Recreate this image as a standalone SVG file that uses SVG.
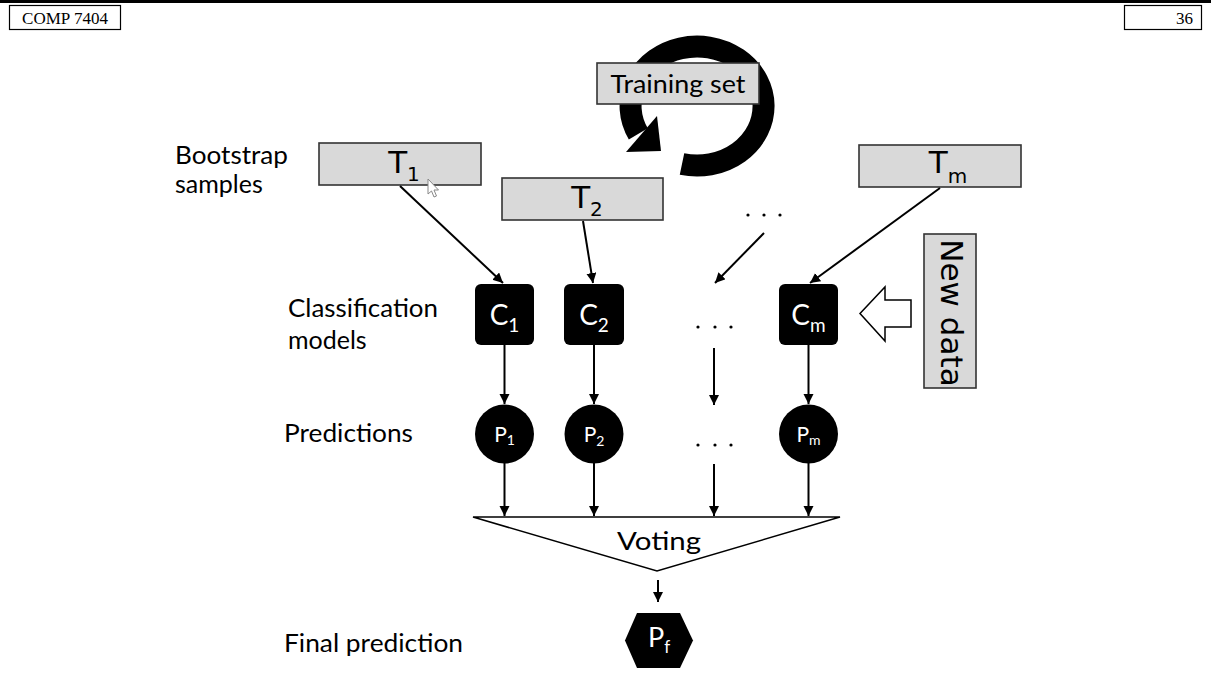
<svg xmlns="http://www.w3.org/2000/svg" width="1211" height="683" viewBox="0 0 1211 683">
  <style>
    .hdr { fill: #ffffff; stroke: #000000; stroke-width: 1.2; }
    .hdrtxt { font-family: "Liberation Serif", serif; font-size: 17px; fill: #000000; }
    .gray { fill: #d9d9d9; stroke: #333333; stroke-width: 1.6; }
    .lbl { font-family: Lato, "Open Sans", sans-serif; font-size: 25px; fill: #000000; }
    .tlbl { font-family: "DejaVu Sans", sans-serif; font-size: 31px; fill: #000000; }
    .tsub { font-size: 20px; }
    .model { fill: #000000; }
    .wtxt { font-family: Lato, "Open Sans", sans-serif; fill: #ffffff; }
    .conn line { stroke: #000000; stroke-width: 2; marker-end: url(#ah); }
    .dot { fill: #000000; }
  </style>
  <defs>
    <marker id="ah" markerUnits="userSpaceOnUse" markerWidth="11" markerHeight="11" refX="10" refY="5" orient="auto">
      <path d="M0,0 L10,5 L0,10 z" fill="#000000"/>
    </marker>
  </defs>

  <rect width="1211" height="683" fill="#ffffff"/>

  <!-- page header -->
  <rect x="0" y="0" width="1211" height="3" fill="#000000"/>
  <g id="header-course">
    <rect class="hdr" x="9.5" y="5.5" width="111" height="24"/>
    <text class="hdrtxt" x="65" y="24" text-anchor="middle">COMP 7404</text>
  </g>
  <g id="header-page">
    <rect class="hdr" x="1124.5" y="5.5" width="77" height="24"/>
    <text class="hdrtxt" x="1193" y="24" text-anchor="end">36</text>
  </g>

  <!-- resampling loop around the training set -->
  <g id="loop">
    <path d="M 682,164 A 66.5 59.5 0 1 0 638.3,133.9" fill="none" stroke="#000000" stroke-width="22"/>
    <polygon points="657,116 626,152 661,151" fill="#000000"/>
  </g>
  <g id="training-set">
    <rect class="gray" x="597" y="63" width="162" height="41"/>
    <text class="lbl" x="678" y="93" text-anchor="middle" font-size="28" textLength="135" lengthAdjust="spacingAndGlyphs">Training set</text>
  </g>

  <!-- row labels -->
  <g id="row-labels">
    <text class="lbl" x="175" y="164" textLength="113" lengthAdjust="spacingAndGlyphs">Bootstrap</text>
    <text class="lbl" x="175" y="193">samples</text>
    <text class="lbl" x="288" y="317" textLength="150" lengthAdjust="spacingAndGlyphs">Classification</text>
    <text class="lbl" x="288" y="349">models</text>
    <text class="lbl" x="284" y="442" textLength="129" lengthAdjust="spacingAndGlyphs">Predictions</text>
    <text class="lbl" x="284" y="652" textLength="179" lengthAdjust="spacingAndGlyphs">Final prediction</text>
  </g>

  <!-- bootstrap samples -->
  <g id="sample-1">
    <rect class="gray" x="319" y="143" width="162" height="42"/>
    <text class="tlbl" x="404" y="173" text-anchor="middle">T<tspan class="tsub" dy="8">1</tspan></text>
  </g>
  <g id="sample-2">
    <rect class="gray" x="502" y="178" width="161" height="42"/>
    <text class="tlbl" x="587" y="208" text-anchor="middle">T<tspan class="tsub" dy="8">2</tspan></text>
  </g>
  <g id="sample-m">
    <rect class="gray" x="859" y="145" width="162" height="42"/>
    <text class="tlbl" x="948" y="173" text-anchor="middle">T<tspan class="tsub" dy="10">m</tspan></text>
  </g>
  <g id="sample-dots">
    <circle class="dot" cx="748" cy="215" r="1.6"/>
    <circle class="dot" cx="764" cy="215" r="1.6"/>
    <circle class="dot" cx="780" cy="215" r="1.6"/>
  </g>

  <!-- mouse pointer -->
  <path d="M428,179 L428,194 L431.5,191 L434,197 L436.5,196 L434,190 L438.5,190 Z" fill="#ffffff" stroke="#888888" stroke-width="1"/>

  <!-- classification models -->
  <g id="model-1">
    <rect class="model" x="475" y="284" width="59" height="61" rx="6"/>
    <text class="wtxt" x="504.5" y="325" text-anchor="middle" font-size="28">C<tspan font-size="19" dy="7">1</tspan></text>
  </g>
  <g id="model-2">
    <rect class="model" x="564" y="284" width="60" height="61" rx="6"/>
    <text class="wtxt" x="594" y="325" text-anchor="middle" font-size="28">C<tspan font-size="19" dy="7">2</tspan></text>
  </g>
  <g id="model-m">
    <rect class="model" x="779" y="284" width="59" height="61" rx="6"/>
    <text class="wtxt" x="808.5" y="325" text-anchor="middle" font-size="28">C<tspan font-size="19" dy="7">m</tspan></text>
  </g>
  <g id="model-dots">
    <circle class="dot" cx="698" cy="327" r="1.6"/>
    <circle class="dot" cx="715" cy="327" r="1.6"/>
    <circle class="dot" cx="731" cy="327" r="1.6"/>
  </g>

  <!-- new data input -->
  <g id="new-data">
    <rect class="gray" x="924" y="234" width="52" height="154"/>
    <text class="tlbl" transform="translate(941,313) rotate(90)" x="0" y="0" text-anchor="middle" font-size="27">New data</text>
  </g>
  <polygon id="new-data-arrow" points="860,313.5 885,287 885,300 911,300 911,327 885,327 885,341" fill="#ffffff" stroke="#000000" stroke-width="1.5"/>

  <!-- predictions -->
  <g id="pred-1">
    <circle class="model" cx="504.5" cy="434" r="29.5"/>
    <text class="wtxt" x="504.5" y="442" text-anchor="middle" font-size="21">P<tspan font-size="14" dy="3">1</tspan></text>
  </g>
  <g id="pred-2">
    <circle class="model" cx="594" cy="434" r="29.5"/>
    <text class="wtxt" x="594" y="442" text-anchor="middle" font-size="21">P<tspan font-size="14" dy="4">2</tspan></text>
  </g>
  <g id="pred-m">
    <circle class="model" cx="808.5" cy="434" r="29.5"/>
    <text class="wtxt" x="808.5" y="442" text-anchor="middle" font-size="21">P<tspan font-size="14" dy="3">m</tspan></text>
  </g>
  <g id="pred-dots">
    <circle class="dot" cx="698" cy="445" r="1.6"/>
    <circle class="dot" cx="715" cy="445" r="1.6"/>
    <circle class="dot" cx="731" cy="445" r="1.6"/>
  </g>

  <!-- voting -->
  <g id="voting">
    <polygon points="473,517 840,517 657,571" fill="#ffffff" stroke="#000000" stroke-width="1.5"/>
    <text class="lbl" x="659" y="550" text-anchor="middle" font-size="31" textLength="84" lengthAdjust="spacingAndGlyphs">Voting</text>
  </g>

  <!-- final prediction -->
  <g id="final">
    <polygon points="625,640.5 637,613 680,613 693,640.5 680,668 637,668" fill="#000000"/>
    <text class="wtxt" x="659" y="647" text-anchor="middle" font-size="27">P<tspan font-size="17" dy="6">f</tspan></text>
  </g>

  <!-- connectors -->
  <g class="conn" id="connectors">
    <line x1="400" y1="186" x2="503" y2="283"/>
    <line x1="583" y1="221" x2="593" y2="283"/>
    <line x1="764" y1="233" x2="715" y2="283"/>
    <line x1="940" y1="188" x2="810" y2="283"/>

    <line x1="504.5" y1="345" x2="504.5" y2="404"/>
    <line x1="594" y1="345" x2="594" y2="404"/>
    <line x1="714" y1="348" x2="714" y2="405"/>
    <line x1="808.5" y1="345" x2="808.5" y2="404"/>

    <line x1="504.5" y1="463" x2="504.5" y2="516"/>
    <line x1="594" y1="463" x2="594" y2="516"/>
    <line x1="714" y1="464" x2="714" y2="516"/>
    <line x1="808.5" y1="463" x2="808.5" y2="516"/>

    <line x1="658" y1="580" x2="658" y2="602"/>
  </g>
</svg>
